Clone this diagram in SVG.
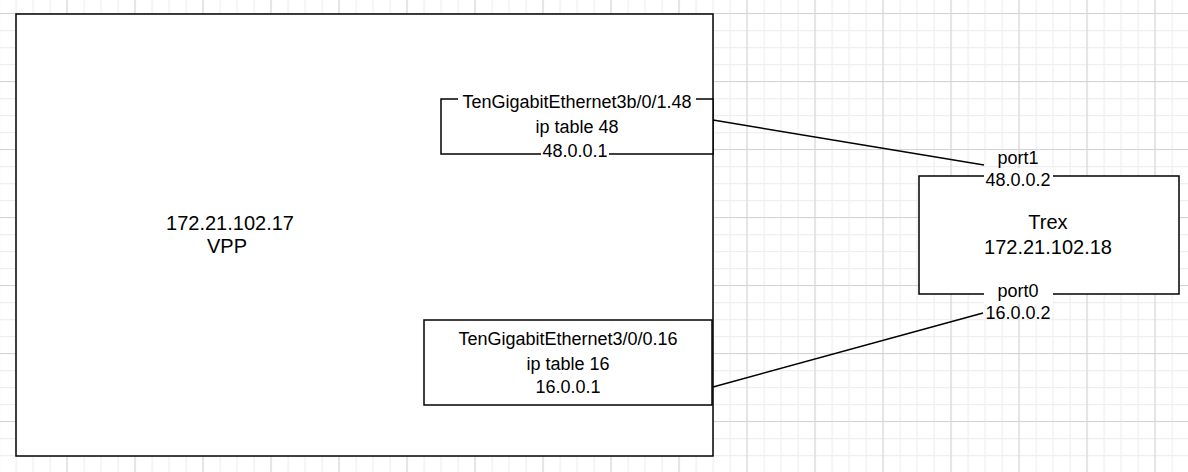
<svg xmlns="http://www.w3.org/2000/svg" width="1188" height="472" viewBox="0 0 1188 472">
<defs>
<pattern id="minor" x="-1.5" y="13" width="17" height="17" patternUnits="userSpaceOnUse">
<path d="M0.5 0V17M0 0.5H17" stroke="#efefef" stroke-width="1.5" fill="none"/>
</pattern>
<pattern id="major" x="-1.5" y="13" width="68" height="68" patternUnits="userSpaceOnUse">
<path d="M0.5 0V68M0 0.5H68" stroke="#d4d4d4" stroke-width="1" fill="none"/>
</pattern>
</defs>
<style>
.box{fill:#fff;stroke:#000;stroke-width:1.5}
.t{font-family:"Liberation Sans",Arial,Helvetica,sans-serif;font-size:18px;fill:#000;text-anchor:middle;dominant-baseline:central}
.big{font-size:20px}
.lbl{fill:#fff}
.c{stroke:#000;stroke-width:1.5;fill:none}
</style>
<rect width="1188" height="472" fill="#fff"/>
<rect width="1188" height="472" fill="url(#minor)"/>
<rect width="1188" height="472" fill="url(#major)"/>

<g id="vpp">
<rect class="box" x="16" y="14" width="697" height="442" stroke-width="2"/>
<text class="t big" x="230" y="223">172.21.102.17</text>
<text class="t big" x="227" y="246">VPP</text>
</g>

<g id="if48">
<rect class="box" x="441" y="99" width="272" height="55"/>
<rect class="lbl" x="458" y="91" width="238" height="20"/>
<text class="t" x="577" y="102">TenGigabitEthernet3b/0/1.48</text>
<text class="t" x="577" y="127">ip table 48</text>
<rect class="lbl" x="541" y="143" width="68" height="20"/>
<text class="t" x="575" y="151">48.0.0.1</text>
</g>

<g id="if16">
<rect class="box" x="424" y="320" width="288" height="85"/>
<text class="t" x="568" y="339">TenGigabitEthernet3/0/0.16</text>
<text class="t" x="568" y="364">ip table 16</text>
<text class="t" x="568" y="387">16.0.0.1</text>
</g>

<g id="trex">
<rect class="box" x="919" y="176" width="260" height="118"/>
<text class="t big" x="1048" y="222">Trex</text>
<text class="t big" x="1048" y="247">172.21.102.18</text>
<rect class="lbl" x="984" y="168" width="69" height="22"/>
<text class="t" x="1018" y="158">port1</text>
<text class="t" x="1018" y="180">48.0.0.2</text>
<rect class="lbl" x="984" y="282" width="69" height="22"/>
<text class="t" x="1018" y="291">port0</text>
<text class="t" x="1018" y="313">16.0.0.2</text>
</g>

<g id="connectors">
<path class="c" d="M713 120L984 165"/>
<path class="c" d="M713 387L983 313"/>
</g>
</svg>
